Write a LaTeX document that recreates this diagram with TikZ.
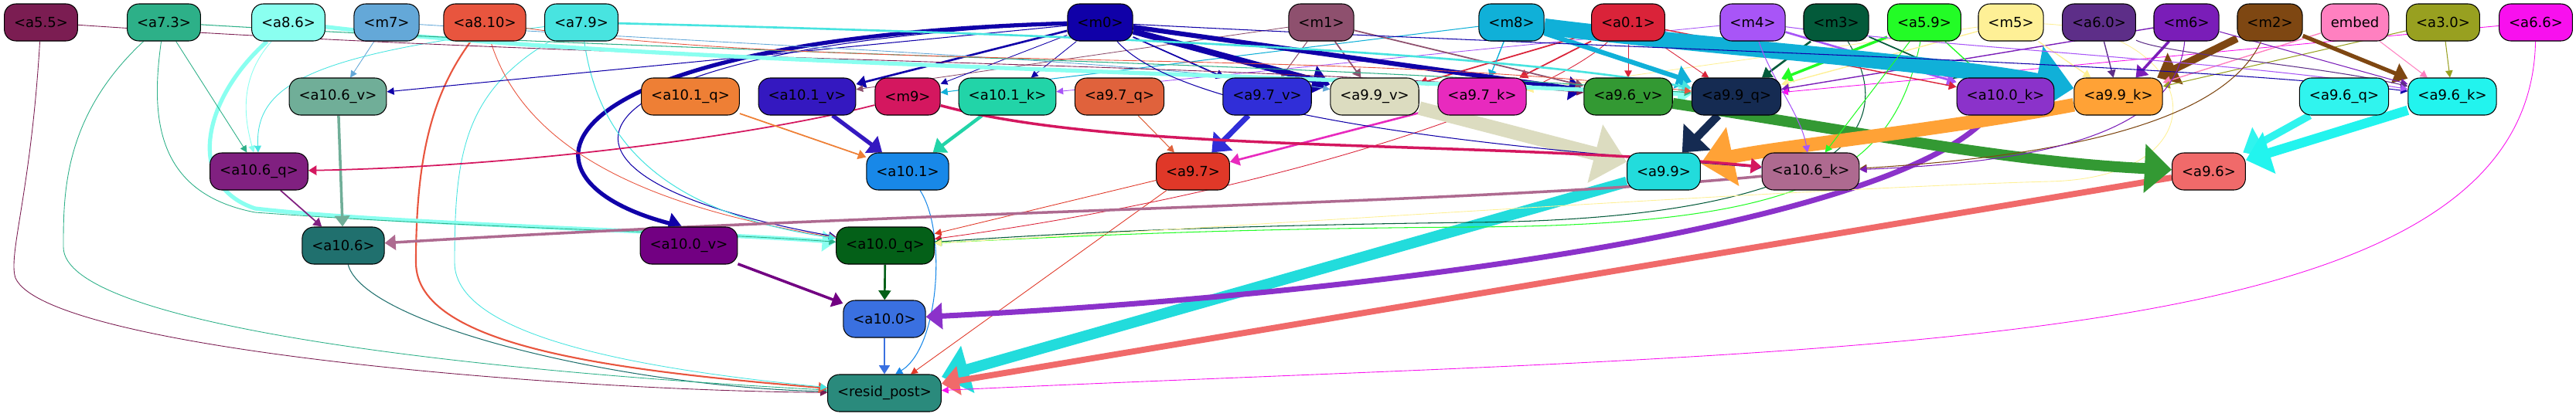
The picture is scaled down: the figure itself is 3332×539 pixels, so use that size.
\documentclass[tikz,border=0pt]{standalone}
\usepackage{fontspec}
\setmainfont{DejaVu Sans}
\usetikzlibrary{arrows.meta,backgrounds}
\definecolor{ca55}{HTML}{7B1D52}
\definecolor{ca73}{HTML}{2DB088}
\definecolor{ca86}{HTML}{8AFFF0}
\definecolor{cm7}{HTML}{64A8D8}
\definecolor{ca810}{HTML}{E8553E}
\definecolor{ca79}{HTML}{48E4E0}
\definecolor{cm0}{HTML}{1000A8}
\definecolor{cm1}{HTML}{8E506E}
\definecolor{cm8}{HTML}{10B0D8}
\definecolor{ca01}{HTML}{DA2339}
\definecolor{cm4}{HTML}{A855F7}
\definecolor{cm3}{HTML}{035A3A}
\definecolor{ca59}{HTML}{23FC26}
\definecolor{cm5}{HTML}{FEF096}
\definecolor{ca60}{HTML}{5D2E88}
\definecolor{cm6}{HTML}{7A1DB8}
\definecolor{cm2}{HTML}{7E4712}
\definecolor{cembed}{HTML}{FF80C0}
\definecolor{ca30}{HTML}{98A020}
\definecolor{ca66}{HTML}{F810EE}
\definecolor{ca106v}{HTML}{70AE98}
\definecolor{ca101q}{HTML}{EE7F35}
\definecolor{ca101v}{HTML}{3418C0}
\definecolor{cm9}{HTML}{D4175F}
\definecolor{ca101k}{HTML}{22D4A8}
\definecolor{ca97q}{HTML}{E0623C}
\definecolor{ca97v}{HTML}{302ED8}
\definecolor{ca99v}{HTML}{DCDCC0}
\definecolor{ca97k}{HTML}{E82ABE}
\definecolor{ca96v}{HTML}{339933}
\definecolor{ca99q}{HTML}{152B52}
\definecolor{ca100k}{HTML}{8B32CA}
\definecolor{ca99k}{HTML}{FFA236}
\definecolor{ca96q}{HTML}{30F4EE}
\definecolor{ca96k}{HTML}{22F4EE}
\definecolor{ca106q}{HTML}{802080}
\definecolor{ca101}{HTML}{1888E8}
\definecolor{ca97}{HTML}{E03828}
\definecolor{ca99}{HTML}{22DCDC}
\definecolor{ca106k}{HTML}{AE6A90}
\definecolor{ca96}{HTML}{F06A6A}
\definecolor{ca106}{HTML}{20706E}
\definecolor{ca100v}{HTML}{720082}
\definecolor{ca100q}{HTML}{046018}
\definecolor{ca100}{HTML}{3A70E0}
\definecolor{cresid}{HTML}{2A8A7C}
\begin{document}
\begin{tikzpicture}[x=0.02cm, y=0.02cm]
\tikzstyle{box}=[draw=black, line width=0.6pt, rounded corners=0.3cm, minimum height=0.96cm, inner xsep=0.25cm, inner ysep=0pt, font=\fontsize{10.24}{12}\selectfont]
\tikzstyle{wire}=[-{Triangle[length=4pt 2, width=3pt 4]}]
\useasboundingbox (0,0) rectangle (3332,-539);
\node[box, fill=ca55] (a55) at (53,-29) {<a5.5>};
\node[box, fill=ca73] (a73) at (212,-29) {<a7.3>};
\node[box, fill=ca86] (a86) at (373,-29) {<a8.6>};
\node[box, fill=cm7] (m7) at (500,-29) {<m7>};
\node[box, fill=ca810] (a810) at (627,-29) {<a8.10>};
\node[box, fill=ca79] (a79) at (752,-29) {<a7.9>};
\node[box, fill=cm0] (m0) at (1423,-29) {<m0>};
\node[box, fill=cm1] (m1) at (1709,-29) {<m1>};
\node[box, fill=cm8] (m8) at (1955,-29) {<m8>};
\node[box, fill=ca01] (a01) at (2106,-29) {<a0.1>};
\node[box, fill=cm4] (m4) at (2267,-29) {<m4>};
\node[box, fill=cm3] (m3) at (2375,-29) {<m3>};
\node[box, fill=ca59] (a59) at (2489,-29) {<a5.9>};
\node[box, fill=cm5] (m5) at (2601,-29) {<m5>};
\node[box, fill=ca60] (a60) at (2715,-29) {<a6.0>};
\node[box, fill=cm6] (m6) at (2828,-29) {<m6>};
\node[box, fill=cm2] (m2) at (2936,-29) {<m2>};
\node[box, fill=cembed] (embed) at (3046,-29) {embed};
\node[box, fill=ca30] (a30) at (3160,-29) {<a3.0>};
\node[box, fill=ca66] (a66) at (3280,-29) {<a6.6>};
\node[box, fill=ca106v] (a106v) at (437,-125) {<a10.6\_v>};
\node[box, fill=ca101q] (a101q) at (893,-125) {<a10.1\_q>};
\node[box, fill=ca101v] (a101v) at (1044,-125) {<a10.1\_v>};
\node[box, fill=cm9] (m9) at (1174,-125) {<m9>};
\node[box, fill=ca101k] (a101k) at (1303,-125) {<a10.1\_k>};
\node[box, fill=ca97q] (a97q) at (1448,-125) {<a9.7\_q>};
\node[box, fill=ca97v] (a97v) at (1639,-125) {<a9.7\_v>};
\node[box, fill=ca99v] (a99v) at (1778,-125) {<a9.9\_v>};
\node[box, fill=ca97k] (a97k) at (1917,-125) {<a9.7\_k>};
\node[box, fill=ca96v] (a96v) at (2106,-125) {<a9.6\_v>};
\node[box, fill=ca99q] (a99q) at (2246,-125) {<a9.9\_q>};
\node[box, fill=ca100k] (a100k) at (2594,-125) {<a10.0\_k>};
\node[box, fill=ca99k] (a99k) at (2740,-125) {<a9.9\_k>};
\node[box, fill=ca96q] (a96q) at (3032,-125) {<a9.6\_q>};
\node[box, fill=ca96k] (a96k) at (3172,-125) {<a9.6\_k>};
\node[box, fill=ca106q] (a106q) at (335,-222) {<a10.6\_q>};
\node[box, fill=ca101] (a101) at (1174,-222) {<a10.1>};
\node[box, fill=ca97] (a97) at (1543,-222) {<a9.7>};
\node[box, fill=ca99] (a99) at (2152,-222) {<a9.9>};
\node[box, fill=ca106k] (a106k) at (2342,-222) {<a10.6\_k>};
\node[box, fill=ca96] (a96) at (2857,-222) {<a9.6>};
\node[box, fill=ca106] (a106) at (444,-318) {<a10.6>};
\node[box, fill=ca100v] (a100v) at (891,-318) {<a10.0\_v>};
\node[box, fill=ca100q] (a100q) at (1145,-318) {<a10.0\_q>};
\node[box, fill=ca100] (a100) at (1144,-413) {<a10.0>};
\node[box, fill=cresid] (resid) at (1144,-509) {<resid\_post>};
\begin{pgfonlayer}{background}
\draw [wire, ca100, line width=1.2pt] (a100) -- (resid);
\draw [wire, ca99, line width=8pt] (a99) -- (resid);
\draw [wire, ca96, line width=4.5pt] (a96) -- (resid);
\draw [wire, ca66, line width=0.5pt] (a66) .. controls (3272,-470) and (2400,-450) .. (resid);
\draw [wire, ca101, line width=0.6pt] (a101) .. controls (1225,-300) and (1215,-450) .. (resid.60);
\draw [wire, ca97, line width=0.5pt] (a97) -- (resid);
\draw [wire, ca106, line width=0.6pt] (a106) .. controls (470,-420) and (800,-500) .. (resid);
\draw [wire, ca73, line width=0.5pt] (a73) .. controls (82,-150) and (82,-250) .. (82,-320) .. controls (82,-420) and (600,-480) .. (resid);
\draw [wire, ca55, line width=0.5pt] (a55) .. controls (40,-250) and (10,-330) .. (20,-360) .. controls (60,-450) and (700,-505) .. (resid);
\draw [wire, ca810, line width=1.2pt] (a810) .. controls (560,-120) and (538,-200) .. (538,-340) .. controls (538,-450) and (800,-480) .. (resid);
\draw [wire, ca79, line width=0.5pt] (a79) .. controls (600,-120) and (588,-200) .. (588,-340) .. controls (588,-440) and (850,-480) .. (resid);
\draw [wire, ca100q, line width=1.5pt] (a100q) -- (a100);
\draw [wire, ca100v, line width=2pt] (a100v) -- (a100);
\draw [wire, ca100k, line width=4pt] (a100k) .. controls (2450,-290) and (1800,-380) .. (a100);
\draw [wire, ca86, line width=3pt] (a86) .. controls (260,-130) and (240,-240) .. (330,-270) .. controls (500,-290) and (900,-300) .. (a100q);
\draw [wire, ca73, line width=0.5pt] (a73) .. controls (195,-150) and (200,-250) .. (330,-275) .. controls (600,-295) and (900,-300) .. (a100q);
\draw [wire, cm0, line width=0.6pt] (m0) .. controls (720,-60) and (630,-225) .. (a100q);
\draw [wire, cm0, line width=3pt] (m0) .. controls (700,-50) and (640,-230) .. (a100v.110);
\draw [wire, ca810, line width=0.5pt] (a810) .. controls (680,-200) and (850,-270) .. (a100q);
\draw [wire, ca79, line width=0.6pt] (a79) .. controls (770,-150) and (820,-270) .. (a100q);
\draw [wire, ca97, line width=0.5pt] (a97) -- (a100q);
\draw [wire, ca01, line width=0.5pt] (a01) .. controls (2000,-130) and (1650,-250) .. (a100q);
\draw [wire, cm3, line width=0.6pt] (m3) .. controls (2480,-200) and (2300,-285) .. (1900,-288) .. controls (1600,-292) and (1400,-300) .. (a100q);
\draw [wire, ca59, line width=0.6pt] (a59) .. controls (2450,-220) and (2350,-292) .. (1900,-294) .. controls (1600,-296) and (1400,-305) .. (a100q);
\draw [wire, cm5, line width=0.5pt] (m5) .. controls (2850,-40) and (2880,-230) .. (2650,-235) .. controls (2300,-245) and (1500,-300) .. (a100q);
\draw [wire, ca106q, line width=1pt] (a106q) -- (a106);
\draw [wire, ca106v, line width=2pt] (a106v) -- (a106);
\draw [wire, ca106k, line width=2pt] (a106k) .. controls (1900,-265) and (1200,-272) .. (a106);
\draw [wire, ca73, line width=0.5pt] (a73) -- (a106q);
\draw [wire, ca86, line width=0.5pt] (a86) .. controls (310,-100) and (315,-150) .. (a106q);
\draw [wire, ca79, line width=0.5pt] (a79) .. controls (400,-70) and (330,-110) .. (a106q);
\draw [wire, cm9, line width=1pt] (m9) .. controls (1000,-170) and (700,-215) .. (a106q);
\draw [wire, cm7, line width=0.5pt] (m7) -- (a106v);
\draw [wire, cm0, line width=0.6pt] (m0) -- (a106v);
\draw [wire, ca101q, line width=1pt] (a101q) -- (a101);
\draw [wire, ca101v, line width=3pt] (a101v) -- (a101);
\draw [wire, ca101k, line width=2.5pt] (a101k) -- (a101);
\draw [wire, cm0, line width=1.5pt] (m0) -- (a101v);
\draw [wire, cm1, line width=0.5pt] (m1) -- (a101v);
\draw [wire, cm8, line width=0.6pt] (m8) -- (m9);
\draw [wire, cm0, line width=0.5pt] (m0) -- (m9);
\draw [wire, cm0, line width=0.5pt] (m0) -- (a101k);
\draw [wire, cm4, line width=0.5pt] (m4) -- (a101k);
\draw [wire, cm0, line width=1pt] (m0) -- (a97v);
\draw [wire, cm1, line width=0.6pt] (m1) -- (a97v);
\draw [wire, ca97v, line width=4pt] (a97v) -- (a97);
\draw [wire, ca97q, line width=0.6pt] (a97q) -- (a97);
\draw [wire, ca97k, line width=1.5pt] (a97k) -- (a97);
\draw [wire, cm0, line width=4.5pt] (m0) -- (a99v);
\draw [wire, cm1, line width=1pt] (m1) -- (a99v);
\draw [wire, ca01, line width=1pt] (a01) -- (a99v);
\draw [wire, cm7, line width=0.5pt] (m7) .. controls (1000,-60) and (1500,-80) .. (a99v);
\draw [wire, cm8, line width=0.8pt] (m8) -- (a97k);
\draw [wire, ca01, line width=1pt] (a01) -- (a97k);
\draw [wire, cm5, line width=0.5pt] (m5) -- (a97k);
\draw [wire, cm0, line width=3.5pt] (m0) -- (a96v);
\draw [wire, cm1, line width=1pt] (m1) -- (a96v);
\draw [wire, ca01, line width=0.6pt] (a01) -- (a96v);
\draw [wire, ca55, line width=0.5pt] (a55) .. controls (800,-80) and (1600,-80) .. (a96v);
\draw [wire, cm8, line width=3.5pt] (m8) -- (a99q);
\draw [wire, ca86, line width=3pt] (a86) .. controls (800,-80) and (1600,-95) .. (a99q);
\draw [wire, ca79, line width=1.5pt] (a79) .. controls (1200,-40) and (1900,-60) .. (a99q);
\draw [wire, ca73, line width=0.6pt] (a73) .. controls (900,-70) and (1700,-80) .. (a99q);
\draw [wire, ca810, line width=0.5pt] (a810) .. controls (1100,-95) and (1700,-60) .. (a99q);
\draw [wire, ca01, line width=0.5pt] (a01) -- (a99q);
\draw [wire, cm3, line width=1.5pt] (m3) -- (a99q);
\draw [wire, ca59, line width=2pt] (a59) -- (a99q);
\draw [wire, cm5, line width=0.8pt] (m5) -- (a99q);
\draw [wire, cm6, line width=0.8pt] (m6) -- (a99q);
\draw [wire, ca66, line width=0.5pt] (a66) -- (a99q);
\draw [wire, cm4, line width=1.5pt] (m4) -- (a100k);
\draw [wire, ca01, line width=0.8pt] (a01) -- (a100k);
\draw [wire, cm3, line width=1pt] (m3) -- (a100k);
\draw [wire, ca59, line width=0.8pt] (a59) -- (a100k);
\draw [wire, cm8, line width=12pt] (m8) .. controls (2200,-60) and (2500,-80) .. (a99k);
\draw [wire, cm2, line width=5.5pt] (m2) -- (a99k);
\draw [wire, cm6, line width=2pt] (m6) -- (a99k);
\draw [wire, ca60, line width=0.8pt] (a60) -- (a99k);
\draw [wire, cembed, line width=0.8pt] (embed) -- (a99k);
\draw [wire, ca30, line width=0.6pt] (a30) -- (a99k);
\draw [wire, cm5, line width=0.8pt] (m5) -- (a99k);
\draw [wire, cm2, line width=3pt] (m2) -- (a96k);
\draw [wire, cembed, line width=0.6pt] (embed) -- (a96k);
\draw [wire, ca30, line width=0.6pt] (a30) -- (a96k);
\draw [wire, cm6, line width=0.6pt] (m6) -- (a96k);
\draw [wire, ca60, line width=0.6pt] (a60) .. controls (2800,-70) and (3000,-85) .. (a96k);
\draw [wire, cm0, line width=0.6pt] (m0) .. controls (2000,-60) and (2800,-80) .. (a96k);
\draw [wire, cm4, line width=0.6pt] (m4) .. controls (2500,-60) and (2900,-80) .. (a96k);
\draw [wire, ca96v, line width=8pt] (a96v) .. controls (2400,-170) and (2600,-210) .. (a96);
\draw [wire, ca96q, line width=5.5pt] (a96q) -- (a96);
\draw [wire, ca96k, line width=7pt] (a96k) -- (a96);
\draw [wire, ca99v, line width=10pt] (a99v) -- (a99);
\draw [wire, ca99q, line width=6pt] (a99q) -- (a99);
\draw [wire, ca99k, line width=10pt] (a99k) .. controls (2500,-170) and (2300,-190) .. (a99);
\draw [wire, cm4, line width=0.6pt] (m4) .. controls (2290,-100) and (2330,-150) .. (a106k);
\draw [wire, ca59, line width=0.6pt] (a59) -- (a106k);
\draw [wire, cm0, line width=0.6pt] (m0) .. controls (1540,-160) and (2000,-195) .. (a106k);
\draw [wire, cm9, line width=2pt] (m9) .. controls (1450,-200) and (1900,-180) .. (a106k);
\draw [wire, cm2, line width=0.6pt] (m2) .. controls (2880,-150) and (2700,-200) .. (a106k);
\draw [wire, cm6, line width=0.6pt] (m6) .. controls (2815,-170) and (2650,-210) .. (a106k);
\end{pgfonlayer}
\end{tikzpicture}
\end{document}
